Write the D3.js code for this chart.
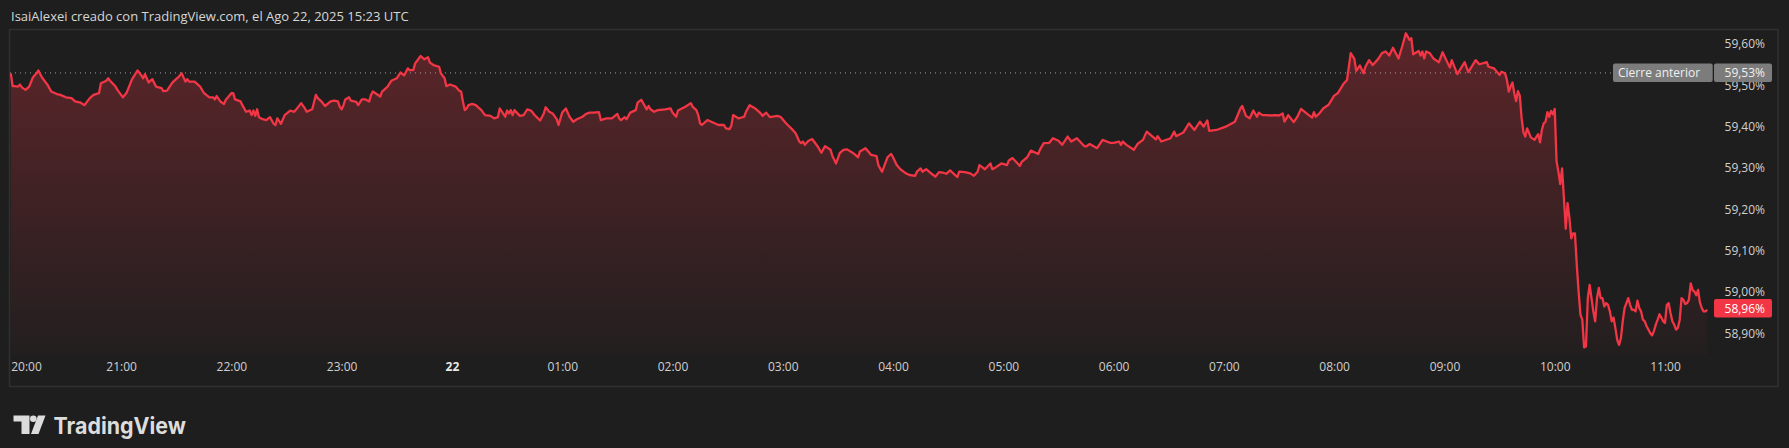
<!DOCTYPE html>
<html><head><meta charset="utf-8">
<script src="https://cdn.jsdelivr.net/npm/d3@7"></script>
<style>
html,body{margin:0;padding:0;background:#1e1e1e;}
svg{display:block;}
</style></head><body>
<svg id="chart" width="1789" height="448"></svg>
<script>
// ---- DATA (minutes after 20:00 on Aug 21, value in %) ----
const minutesA = [0,1,2,4,5,6,8,10,12,14,15,17,20,22,25,27,30,33,35,38,40,43,45,48,49,52,53,54,57,58,61,63,66,69,71,72,73,75,77,79,82,83,85,88,91,93,95,96,97,100,103,105,108,110,111,112,114,116,117,120,121,122,125,126,128,130,131,132,133,134,135,137,139,141,143,144,145,147,149,152,154,155,158,160,161,164,166,167,169,171,174,176,178,179,180,181,182,184,185,188,189,191,193,195,196,197,201,202,205,207,210,212,214,216,217,219,220,222,223];
const valuesA = [59.529,59.498,59.498,59.497,59.502,59.495,59.489,59.497,59.519,59.529,59.536,59.519,59.501,59.485,59.479,59.477,59.471,59.469,59.461,59.458,59.452,59.469,59.477,59.481,59.505,59.511,59.517,59.511,59.497,59.489,59.471,59.482,59.515,59.536,59.524,59.517,59.527,59.507,59.515,59.497,59.493,59.486,59.487,59.507,59.519,59.529,59.509,59.515,59.509,59.509,59.497,59.482,59.471,59.471,59.466,59.474,59.461,59.455,59.465,59.481,59.481,59.466,59.461,59.452,59.436,59.439,59.428,59.439,59.426,59.442,59.423,59.418,59.416,59.423,59.407,59.404,59.420,59.407,59.428,59.439,59.436,59.440,59.457,59.444,59.436,59.442,59.477,59.469,59.461,59.450,59.461,59.463,59.461,59.448,59.442,59.452,59.466,59.471,59.463,59.460,59.452,59.466,59.466,59.461,59.477,59.485,59.473,59.485,59.497,59.511,59.517,59.531,59.524,59.541,59.537,59.537,59.553,59.565,59.571];
const minutesB = [225,227,228,230,233,234,236,237,239,242,244,245,246,247,248,249,251,253,256,258,261,263,265,266,268,269,270,271,272,273,274,277,279,281,283,285,288,290,291,293,295,297,298,300,302,304,306,308,311,313,315,317,320,321,324,327,330,331,332,334,335,337,340,341,343,346,347,348,350,352,356,359,360,362,363,367,370,371,373,374,375,376,379,382,385,388,389,391,392,393,396,399,400,402,405,408,409,411,413,417,419,422,425,427,429,430,431,432,434,436,439,441,443,446,447,449,451];
const valuesB = [59.563,59.568,59.555,59.549,59.545,59.529,59.517,59.498,59.502,59.497,59.487,59.485,59.461,59.440,59.444,59.452,59.455,59.452,59.440,59.428,59.426,59.420,59.423,59.444,59.431,59.424,59.439,59.432,59.440,59.428,59.440,59.426,59.428,59.442,59.439,59.428,59.415,59.432,59.447,59.436,59.431,59.418,59.404,59.434,59.444,59.424,59.412,59.418,59.424,59.431,59.434,59.434,59.435,59.416,59.420,59.420,59.431,59.420,59.416,59.423,59.418,59.434,59.440,59.458,59.465,59.442,59.450,59.442,59.436,59.440,59.442,59.444,59.434,59.424,59.439,59.448,59.457,59.448,59.440,59.428,59.408,59.404,59.416,59.410,59.404,59.404,59.396,59.394,59.402,59.428,59.420,59.424,59.436,59.452,59.444,59.432,59.426,59.434,59.423,59.426,59.423,59.407,59.394,59.384,59.364,59.360,59.364,59.356,59.366,59.370,59.352,59.337,59.353,59.344,59.329,59.311,59.336];
const minutesC = [453,455,458,461,462,465,468,471,472,474,475,477,479,480,482,484,487,489,492,493,495,496,498,501,503,505,507,509,511,515,516,519,522,524,526,527,530,533,534,536,539,542,543,545,549,550,553,555,559,560,562,565,567,570,572,575,577,580,584,585,587,591,594,598,600,603,604,605,607,611,613,616,618,623,624,626,631,633,634,638,641,644,647,649,651,652,656,661,666,669,670,672,674,676,678,679];
const valuesC = [59.344,59.345,59.337,59.326,59.340,59.348,59.332,59.329,59.307,59.291,59.302,59.326,59.334,59.326,59.307,59.297,59.287,59.283,59.281,59.291,59.299,59.291,59.297,59.286,59.279,59.290,59.289,59.286,59.294,59.278,59.291,59.290,59.287,59.281,59.291,59.307,59.297,59.311,59.297,59.302,59.311,59.307,59.318,59.324,59.305,59.315,59.326,59.342,59.334,59.345,59.360,59.361,59.372,59.366,59.356,59.376,59.364,59.372,59.353,59.352,59.358,59.348,59.368,59.361,59.361,59.364,59.356,59.364,59.356,59.344,59.358,59.368,59.388,59.369,59.377,59.364,59.372,59.388,59.377,59.386,59.408,59.392,59.412,59.400,59.415,59.390,59.392,59.400,59.412,59.444,59.450,59.426,59.420,59.439,59.424,59.434];
const minutesD = [681,683,686,688,690,692,693,695,698,700,702,705,708,709,710,712,714,717,720,722,725,727,728,729,731,732,734,736,737,739,741,744,746,748,750,752,755,757,759,761,762,763,766,767,768,769,770,772,774,777,779,781,783,784,787,791,793,797,799,803,804,807,810,811,813,814,815,816,817,818,819,820,821,822,823,824,825,827,829,831,832,833,834,835,836,837,838,839,840,841,842,843,844,845,846,847,848,849,850,851,852,853,854,855,856,857,858,859,860,861,862,863,864,865,866,867,868,869,870,871,872,873,874,875,876,877,878,879,880,881,882,883,884,885,886,887,888,889,890,891,892,893,894,895,896,897,898,899,900,901,902,903,904,905,906,907,908,909,910,911,912,913,914,915,916,917,918,919,920,921,922,923];
const valuesD = [59.428,59.428,59.427,59.428,59.427,59.432,59.412,59.428,59.411,59.424,59.443,59.432,59.422,59.435,59.424,59.432,59.444,59.453,59.475,59.481,59.503,59.513,59.545,59.578,59.564,59.535,59.548,59.529,59.545,59.561,59.549,59.564,59.578,59.582,59.572,59.591,59.565,59.594,59.626,59.610,59.614,59.575,59.583,59.572,59.582,59.565,59.582,59.578,59.565,59.556,59.580,59.561,59.543,59.561,59.527,59.556,59.532,59.561,59.551,59.556,59.545,59.541,59.525,59.533,59.529,59.513,59.485,59.497,59.507,59.481,59.462,59.486,59.475,59.420,59.386,59.376,59.396,59.374,59.368,59.382,59.362,59.392,59.408,59.412,59.435,59.424,59.438,59.430,59.443,59.316,59.291,59.261,59.299,59.227,59.153,59.215,59.179,59.130,59.142,59.142,59.066,59.001,58.945,58.933,58.866,58.868,58.985,59.017,58.985,58.953,58.929,58.985,59.010,58.985,58.985,58.965,58.973,58.969,58.953,58.929,58.938,58.913,58.884,58.872,58.888,58.929,58.961,58.973,58.985,58.969,58.957,58.957,58.953,58.979,58.961,58.953,58.933,58.929,58.917,58.909,58.900,58.895,58.906,58.921,58.933,58.946,58.938,58.929,58.925,58.969,58.973,58.949,58.929,58.921,58.909,58.913,58.933,58.985,58.981,58.971,58.973,58.981,59.021,59.005,59.001,58.992,59.005,58.975,58.961,58.953,58.953,58.957];
const priceTicks = [58.90,59.00,59.10,59.20,59.30,59.40,59.50,59.60];
const hourCount = 15;
const prevClose = 59.53;
const prevCloseLabel = "Cierre anterior";
const lastValue = 58.96;
const headerText = "IsaiAlexei creado con TradingView.com, el Ago 22, 2025 15:23 UTC";
const brandText = "TradingView";

// ---- BUILD ----
const minutes = [].concat(minutesA, minutesB, minutesC, minutesD);
const values = [].concat(valuesA, valuesB, valuesC, valuesD);
const start = new Date(2025, 7, 21, 20, 0);
const data = minutes.map((m, i) => ({ date: d3.timeMinute.offset(start, m), v: values[i] }));

const svg = d3.select('#chart');
const FONT = "'Open Sans', 'Noto Sans', sans-serif";
const pane = { left: 10, top: 30, right: 1713, bottom: 356 };
const hourPx = 110.28;
const x = d3.scaleTime()
  .domain([start, d3.timeHour.offset(start, hourCount)])
  .range([10.8, 10.8 + hourPx * hourCount]);
const y = d3.scaleLinear().domain([58.90, 59.60]).range([333.3, 44]);
const fmt = v => v.toFixed(2).replace('.', ',') + '%';

svg.append('rect').attr('width', 1789).attr('height', 448).attr('fill', '#1e1e1e');

// header
svg.append('text').attr('x', 11).attr('y', 20.5).attr('fill', '#d6d6d6')
  .style('font-family', FONT).style('font-size', '13px').text(headerText);

// frame
svg.append('rect').attr('x', 9.5).attr('y', 29.5).attr('width', 1768.5).attr('height', 357)
  .attr('fill', 'none').attr('stroke', '#303030').attr('stroke-width', 1.5);

// gradient
const defs = svg.append('defs');
const grad = defs.append('linearGradient').attr('id', 'fillGrad')
  .attr('gradientUnits', 'userSpaceOnUse').attr('x1', 0).attr('x2', 0)
  .attr('y1', pane.top).attr('y2', pane.bottom);
grad.append('stop').attr('offset', '0%').attr('stop-color', '#f23645').attr('stop-opacity', 0.30);
grad.append('stop').attr('offset', '100%').attr('stop-color', '#f23645').attr('stop-opacity', 0.02);
defs.append('clipPath').attr('id', 'paneClip').append('rect')
  .attr('x', pane.left).attr('y', pane.top).attr('width', pane.right - pane.left).attr('height', pane.bottom - pane.top);

const g = svg.append('g').attr('clip-path', 'url(#paneClip)');
g.append('path').datum(data)
  .attr('d', d3.area().x(d => x(d.date)).y0(pane.bottom).y1(d => y(d.v)))
  .attr('fill', 'url(#fillGrad)');

// previous close dotted line
g.append('line').attr('x1', pane.left).attr('x2', 1613).attr('y1', y(prevClose)).attr('y2', y(prevClose))
  .attr('stroke', '#a0a0a0').attr('stroke-width', 1).attr('stroke-dasharray', '1,4');

g.append('path').datum(data)
  .attr('d', d3.line().x(d => x(d.date)).y(d => y(d.v)))
  .attr('fill', 'none').attr('stroke', '#f23645').attr('stroke-width', 2.3)
  .attr('stroke-linejoin', 'round');

// price axis
const yAxis = d3.axisRight(y).tickValues(priceTicks).tickFormat(fmt).tickSize(0).tickPadding(0);
const ya = svg.append('g').attr('transform', 'translate(1765,0)').call(yAxis);
ya.select('.domain').remove();
ya.selectAll('text').attr('text-anchor', 'end').attr('fill', '#d0d0d0')
  .style('font-family', FONT).style('font-size', '12px');

// time axis
const xAxis = d3.axisBottom(x).ticks(d3.timeHour.every(1)).tickSize(0).tickPadding(0)
  .tickFormat(d => d.getHours() === 0 ? d3.timeFormat('%-d')(d) : d3.timeFormat('%H:%M')(d));
const xa = svg.append('g').attr('transform', 'translate(0,362)').call(xAxis);
xa.select('.domain').remove();
xa.selectAll('text').style('font-family', FONT).style('font-size', '12px')
  .style('font-weight', d => d.getHours() === 0 ? 700 : 400)
  .attr('fill', d => d.getHours() === 0 ? '#e8e8e8' : '#d0d0d0');
xa.selectAll('.tick').filter((d, i) => i === 0).select('text')
  .attr('text-anchor', 'start').attr('x', 10.7 - x(start));

// previous close label
const pcY = y(prevClose);
svg.append('rect').attr('x', 1613).attr('y', pcY - 9.5).attr('width', 99.7).attr('height', 18.5)
  .attr('rx', 2).attr('fill', '#7c7c7c');
svg.append('text').attr('x', 1618).attr('y', pcY + 4).attr('fill', '#f0f0f0')
  .style('font-family', FONT).style('font-size', '12px').text(prevCloseLabel);
svg.append('rect').attr('x', 1714).attr('y', pcY - 9.5).attr('width', 58).attr('height', 18.5)
  .attr('rx', 2).attr('fill', '#7c7c7c');
svg.append('text').attr('x', 1765).attr('y', pcY + 4).attr('text-anchor', 'end').attr('fill', '#f0f0f0')
  .style('font-family', FONT).style('font-size', '12px').text(fmt(prevClose));

// last value label
const lvY = y(lastValue);
svg.append('rect').attr('x', 1714).attr('y', lvY - 9.5).attr('width', 58).attr('height', 18.5)
  .attr('rx', 2).attr('fill', '#f23645');
svg.append('text').attr('x', 1765).attr('y', lvY + 4).attr('text-anchor', 'end').attr('fill', '#ffffff')
  .style('font-family', FONT).style('font-size', '12px').text(fmt(lastValue));

// brand logo
const logo = svg.append('g').attr('fill', '#dcdcdc');
logo.append('path').attr('d', 'M13.5,415.5 H29.5 V434 H21.5 V421.5 H13.5 Z');
logo.append('circle').attr('cx', 33.3).attr('cy', 418.8).attr('r', 3.3);
logo.append('path').attr('d', 'M38,415.5 H45.5 L38.5,434 H31 Z');
svg.append('text').attr('x', 53.5).attr('y', 433.5).attr('fill', '#dcdcdc')
  .style('font-family', "Inter, Roboto, sans-serif").style('font-size', '23px').style('font-weight', 700)
  .attr('textLength', 132.5).attr('lengthAdjust', 'spacingAndGlyphs').text(brandText);
</script>
</body></html>
